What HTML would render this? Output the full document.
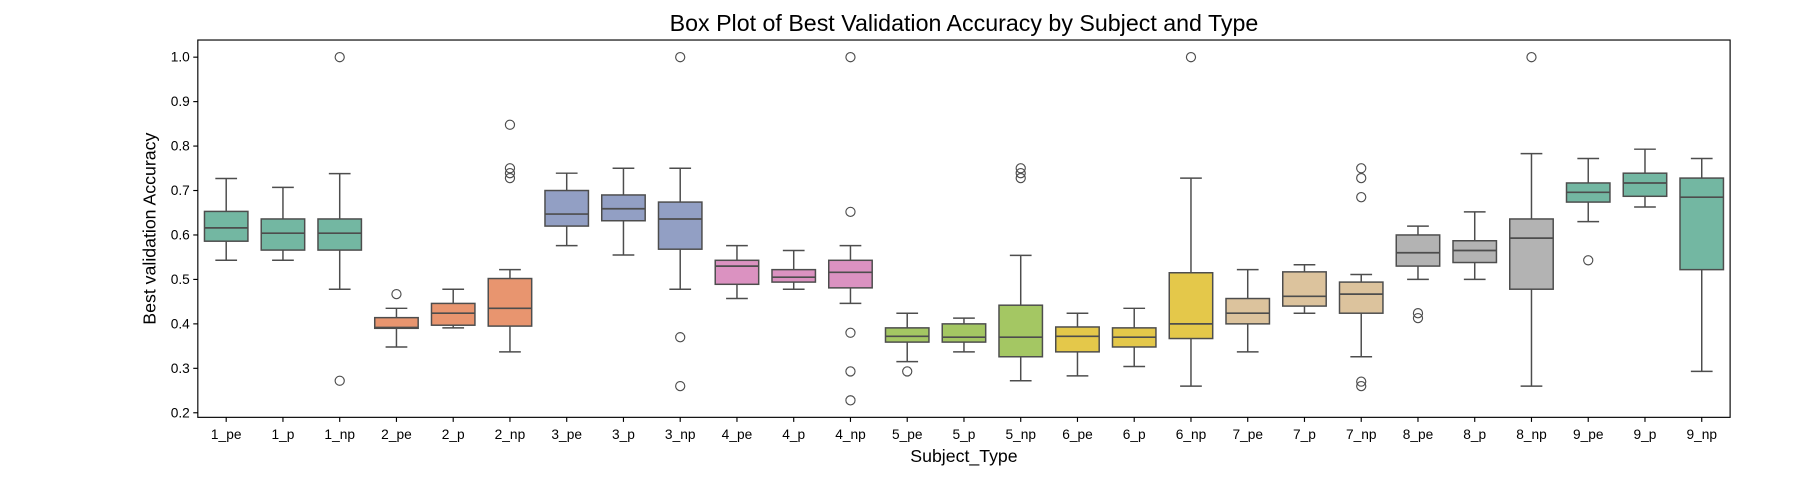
<!DOCTYPE html>
<html><head><meta charset="utf-8"><style>
body{margin:0;background:#fff;}
svg{display:block;}
svg text{font-family:"Liberation Sans","DejaVu Sans",sans-serif;fill:#000;}
</style></head><body>
<svg id="chart" width="1793" height="480" viewBox="0 0 1568 419.8" preserveAspectRatio="none">
<text x="843" y="27" font-size="20.3" text-anchor="middle">Box Plot of Best Validation Accuracy by Subject and Type</text>
<text x="843" y="404" font-size="15.5" text-anchor="middle">Subject_Type</text>
<text transform="translate(136,200) rotate(-90)" font-size="15.5" text-anchor="middle">Best validation Accuracy</text>
<g id="plot"></g>
<rect x="173" y="35" width="1340" height="330" fill="none" stroke="#000" stroke-width="1"/>
</svg>
<script>
const categories=["1_pe","1_p","1_np","2_pe","2_p","2_np","3_pe","3_p","3_np","4_pe","4_p","4_np","5_pe","5_p","5_np","6_pe","6_p","6_np","7_pe","7_p","7_np","8_pe","8_p","8_np","9_pe","9_p","9_np"];
const whiskerLow=[0.543,0.543,0.478,0.348,0.391,0.337,0.576,0.555,0.478,0.457,0.478,0.446,0.315,0.337,0.272,0.283,0.304,0.26,0.337,0.424,0.326,0.5,0.5,0.26,0.630,0.663,0.293];
const q1=[0.586,0.566,0.566,0.390,0.397,0.395,0.620,0.632,0.568,0.489,0.494,0.481,0.359,0.359,0.326,0.337,0.348,0.367,0.40,0.44,0.424,0.530,0.538,0.478,0.674,0.687,0.522];
const median=[0.616,0.604,0.604,0.392,0.424,0.435,0.647,0.659,0.636,0.530,0.505,0.516,0.372,0.370,0.370,0.372,0.370,0.40,0.424,0.462,0.467,0.560,0.565,0.593,0.696,0.717,0.685];
const q3=[0.653,0.636,0.636,0.414,0.446,0.502,0.700,0.690,0.674,0.543,0.522,0.543,0.391,0.400,0.442,0.393,0.391,0.515,0.457,0.517,0.494,0.600,0.587,0.636,0.717,0.739,0.728];
const whiskerHigh=[0.727,0.707,0.738,0.435,0.478,0.522,0.739,0.750,0.750,0.576,0.565,0.576,0.424,0.413,0.554,0.424,0.435,0.728,0.522,0.533,0.511,0.620,0.652,0.783,0.772,0.793,0.772];
const outliers=[[],[],[1.0,0.272],[0.467],[],[0.848,0.75,0.739,0.728],[],[],[1.0,0.37,0.26],[],[],[1.0,0.652,0.38,0.293,0.228],[0.293],[],[0.75,0.739,0.728],[],[],[1.0],[],[],[0.75,0.728,0.685,0.27,0.26],[0.424,0.413],[],[1.0],[0.543],[],[]];
const yTicks=[0.2,0.3,0.4,0.5,0.6,0.7,0.8,0.9,1.0];
const colors=["#73b7a2","#e8956f","#929fc4","#db92c1","#a4c763","#e4c84a","#dcc39d","#b3b3b3"];
const L=173,R=1513,step=(R-L)/categories.length;
const y=v=>50+(1.0-v)*388.75;
const xc=i=>L+step*(i+0.5);
const g=document.getElementById('plot');
const NS='http://www.w3.org/2000/svg';
function mk(t,a,name){const e=document.createElementNS(NS,t);for(const k in a)e.setAttribute(k,a[k]);


g.appendChild(e);return e;}
yTicks.forEach(v=>{
 mk('line',{x1:L-4,x2:L,y1:y(v),y2:y(v),stroke:'#000'},'y-tick');
 const t=mk('text',{x:L-7,y:y(v)+4,'font-size':'12','text-anchor':'end'},'y-tick-label');t.textContent=v.toFixed(1);
});
const lc='#4d4d4d',bw=38;
categories.forEach((c,i)=>{
 const x=xc(i),col=colors[Math.floor(i/3)%8];
 mk('line',{x1:x,x2:x,y1:y(whiskerHigh[i]),y2:y(q3[i]),stroke:lc,'stroke-width':1.3},'whisker-upper-'+c);
 mk('line',{x1:x,x2:x,y1:y(q1[i]),y2:y(whiskerLow[i]),stroke:lc,'stroke-width':1.3},'whisker-lower-'+c);
 mk('line',{x1:x-bw/4,x2:x+bw/4,y1:y(whiskerHigh[i]),y2:y(whiskerHigh[i]),stroke:lc,'stroke-width':1.3},'cap-upper-'+c);
 mk('line',{x1:x-bw/4,x2:x+bw/4,y1:y(whiskerLow[i]),y2:y(whiskerLow[i]),stroke:lc,'stroke-width':1.3},'cap-lower-'+c);
 mk('rect',{x:x-bw/2,y:y(q3[i]),width:bw,height:y(q1[i])-y(q3[i]),fill:col,stroke:lc,'stroke-width':1.3},'box-'+c);
 mk('line',{x1:x-bw/2,x2:x+bw/2,y1:y(median[i]),y2:y(median[i]),stroke:lc,'stroke-width':1.5},'median-'+c);
 outliers[i].forEach(v=>mk('circle',{cx:x,cy:y(v),r:4,fill:'none',stroke:lc,'stroke-width':1},'outlier-'+c));
 mk('line',{x1:x,x2:x,y1:365,y2:369,stroke:'#000'},'x-tick');
 const t=mk('text',{x:x,y:384,'font-size':'12','text-anchor':'middle'},'x-tick-label');t.textContent=c;
});
</script>
</body></html>
